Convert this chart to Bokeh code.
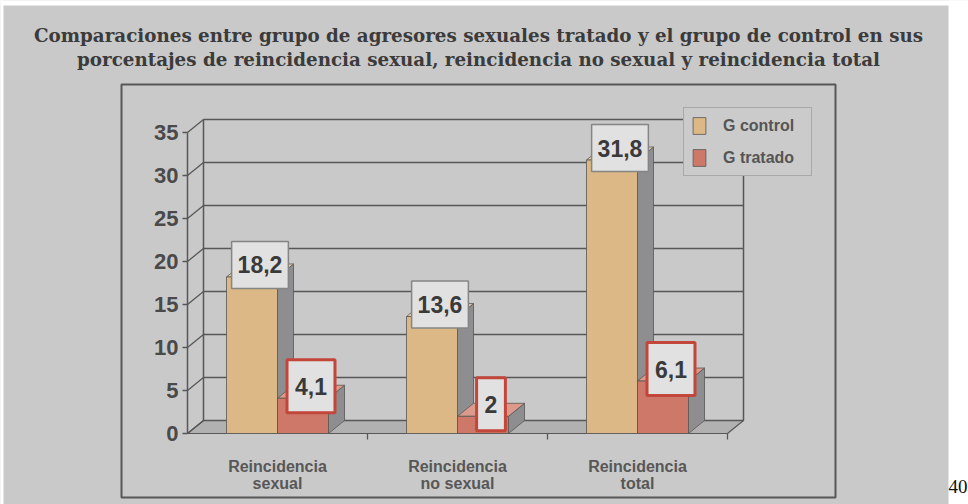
from bokeh.plotting import figure
from bokeh.models import Range1d, Legend, LegendItem
from bokeh.core.properties import value
from bokeh.embed import file_html
from bokeh.resources import INLINE

# ---------------- data ----------------
title_lines = [
    "Comparaciones entre grupo de agresores sexuales tratado y el grupo de control en sus",
    "porcentajes de reincidencia sexual, reincidencia no sexual y reincidencia total",
]
categories = ["Reincidencia\nsexual", "Reincidencia\nno sexual", "Reincidencia\ntotal"]
series_names = ["G control", "G tratado"]
control = [18.2, 13.6, 31.8]
tratado = [4.1, 2.0, 6.1]
y_ticks = [0, 5, 10, 15, 20, 25, 30, 35]
page_number = "40"

# ---------------- geometry (pixels -> data) ----------------
W, H = 968, 504
PX_PER_CAT = 180.0
PX_PER_UNIT = 8.6
ORIGIN_X = 187.0   # canvas px of x = 0
ORIGIN_Y = 433.0   # canvas px (from top) of y = 0


def dx(px):
    return px / PX_PER_CAT


def dy(px):
    return px / PX_PER_UNIT


def fx(px):
    return (px - ORIGIN_X) / PX_PER_CAT


def fy(py):
    return (ORIGIN_Y - py) / PX_PER_UNIT


DEPTH_X = dx(16)
DEPTH_Y = dy(13)
BAR_W = dx(51)
N = len(categories)
Y_MAX = y_ticks[-1]

BG = "#c9c9c9"
LINE = "#575757"
C_FRONT, C_TOP = "#dbb886", "#eacfa6"
T_FRONT, T_TOP = "#cd7868", "#dc9a8b"
SIDE = "#8e8e90"
FLOOR = "#b1b1b1"
SANS = "Liberation Sans"

p = figure(width=W, height=H, output_backend="svg", toolbar_location=None,
           x_range=Range1d(fx(0), fx(W)), y_range=Range1d(fy(H), fy(0)),
           x_axis_location=None, y_axis_location=None, title_location=None,
           min_border=0, background_fill_color=BG, border_fill_color=BG,
           outline_line_color=None)
p.xgrid.visible = False
p.ygrid.visible = False

# white margins of the scanned page
p.quad(left=[fx(948)], right=[fx(W + 5)], bottom=[fy(H + 5)], top=[fy(-5)],
       fill_color="white", line_color=None)
p.quad(left=[fx(-5)], right=[fx(W + 5)], bottom=[fy(5)], top=[fy(-5)],
       fill_color="white", line_color=None)
p.quad(left=[fx(-5)], right=[fx(3)], bottom=[fy(H + 5)], top=[fy(-5)],
       fill_color="white", line_color=None)

# inner frame
p.quad(left=[fx(121)], right=[fx(835)], bottom=[fy(497)], top=[fy(84)],
       fill_color=None, line_color=LINE, line_width=2)

# floor
p.patch(x=[0, N, N + DEPTH_X, DEPTH_X], y=[0, 0, DEPTH_Y, DEPTH_Y],
        fill_color=FLOOR, line_color=LINE, line_width=1.2)

# back-wall gridlines
p.segment(x0=[DEPTH_X] * len(y_ticks), x1=[N + DEPTH_X] * len(y_ticks),
          y0=[t + DEPTH_Y for t in y_ticks], y1=[t + DEPTH_Y for t in y_ticks],
          line_color=LINE, line_width=1.5)
# back wall verticals
p.segment(x0=[DEPTH_X, N + DEPTH_X], x1=[DEPTH_X, N + DEPTH_X],
          y0=[DEPTH_Y, DEPTH_Y], y1=[Y_MAX + DEPTH_Y, Y_MAX + DEPTH_Y],
          line_color=LINE, line_width=1.5)
# left wall: front axis line and diagonals
p.segment(x0=[0], x1=[0], y0=[0], y1=[Y_MAX], line_color=LINE, line_width=1.5)
p.segment(x0=[0] * len(y_ticks), x1=[DEPTH_X] * len(y_ticks),
          y0=y_ticks, y1=[t + DEPTH_Y for t in y_ticks],
          line_color=LINE, line_width=1.3)
# y tick marks
p.segment(x0=[-dx(5)] * len(y_ticks), x1=[0] * len(y_ticks),
          y0=y_ticks, y1=y_ticks, line_color=LINE, line_width=1.3)
# category separators below floor
cat_edges = list(range(1, N + 1))
p.segment(x0=cat_edges, x1=cat_edges, y0=[0] * N, y1=[-dy(6)] * N,
          line_color=LINE, line_width=1.3)

# y tick labels
p.text(x=[-dx(9)] * len(y_ticks), y=y_ticks, text=[str(t) for t in y_ticks],
       text_font=value(SANS), text_font_style="bold", text_font_size="22px",
       text_color="#4a4a4a", text_align="right", text_baseline="middle")


def bar_shapes(lefts, vals):
    side_x, side_y, top_x, top_y = [], [], [], []
    for x0, v in zip(lefts, vals):
        x1 = x0 + BAR_W
        side_x.append([x1, x1 + DEPTH_X, x1 + DEPTH_X, x1])
        side_y.append([0, DEPTH_Y, v + DEPTH_Y, v])
        top_x.append([x0, x1, x1 + DEPTH_X, x0 + DEPTH_X])
        top_y.append([v, v, v + DEPTH_Y, v + DEPTH_Y])
    return side_x, side_y, top_x, top_y


centers = [i + 0.5 for i in range(N)]
c_left = [c - BAR_W for c in centers]
t_left = [c for c in centers]

renderers = []
for lefts, vals, front, top in ((c_left, control, C_FRONT, C_TOP),
                                (t_left, tratado, T_FRONT, T_TOP)):
    sx, sy, tx, ty = bar_shapes(lefts, vals)
    p.patches(xs=sx, ys=sy, fill_color=SIDE, line_color=LINE, line_width=0.8)
    p.patches(xs=tx, ys=ty, fill_color=top, line_color=LINE, line_width=0.8)
    r = p.quad(left=lefts, right=[l + BAR_W for l in lefts], bottom=[0] * N,
               top=vals, fill_color=front, line_color=LINE, line_width=0.8)
    renderers.append(r)


def fmt(v):
    return f"{v:g}".replace(".", ",")


# value labels
p.text(x=[l + BAR_W / 2 + dx(8) for l in c_left], y=[v + dy(12) for v in control],
       text=[fmt(v) for v in control], text_font=value(SANS), text_font_style="bold",
       text_font_size="23px", text_color="#3a3a3a", text_align="center",
       text_baseline="middle", background_fill_color="#e1e1e1",
       border_line_color="#858585", border_line_width=1.5,
       padding=dict(left=6, right=6, top=15, bottom=15))
p.text(x=[l + BAR_W / 2 + dx(8) for l in t_left], y=[v + dy(12) for v in tratado],
       text=[fmt(v) for v in tratado], text_font=value(SANS), text_font_style="bold",
       text_font_size="23px", text_color="#3a3a3a", text_align="center",
       text_baseline="middle", background_fill_color="#e1e1e1",
       border_line_color="#c2463a", border_line_width=3,
       padding=dict(left=8, right=8, top=18, bottom=18))

# category labels
line1 = [c.split("\n")[0] for c in categories]
line2 = [c.split("\n")[1] for c in categories]
for txt, ypx in ((line1, 466), (line2, 483)):
    p.text(x=centers, y=[fy(ypx)] * N, text=txt, text_font=value(SANS),
           text_font_style="bold", text_font_size="16px", text_color="#575757",
           text_align="center", text_baseline="alphabetic")

# title
p.text(x=[fx(478)] * 2, y=[fy(35), fy(59)], text=title_lines,
       text_font=value("DejaVu Serif"), text_font_style="bold",
       text_font_size="18.3px", text_color="#3b3b3b", text_align="center",
       text_baseline="alphabetic")

# page number
p.text(x=[fx(948)], y=[fy(486)], text=[page_number], text_font=value("Liberation Serif"),
       text_font_size="19px", text_color="#111111", text_align="left",
       text_baseline="middle")

legend = Legend(items=[LegendItem(label=series_names[0], renderers=[renderers[0]]),
                       LegendItem(label=series_names[1], renderers=[renderers[1]])],
                location=(683, H - 176), orientation="vertical",
                glyph_width=16, glyph_height=21, label_standoff=16, spacing=11,
                padding=7, margin=0, label_width=81, label_height=21,
                label_text_font=SANS, label_text_font_style="bold",
                label_text_font_size="16px", label_text_color="#555555",
                background_fill_color="#cbcbcb", background_fill_alpha=1.0,
                border_line_color="#858585", border_line_width=1.5)
p.add_layout(legend)

open("out.html", "w").write(file_html(p, INLINE))
